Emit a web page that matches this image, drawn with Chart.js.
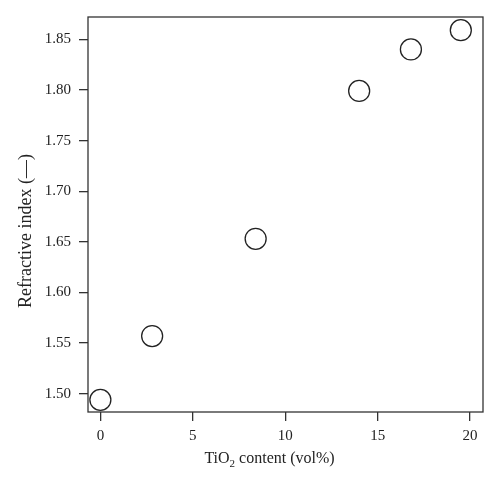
<!DOCTYPE html>
<html>
<head>
<meta charset="utf-8">
<script src="https://cdn.jsdelivr.net/npm/chart.js@4.4.0/dist/chart.umd.min.js"></script>
<style>
  html, body { margin: 0; padding: 0; background: #fff; }
  #wrap { width: 500px; height: 487px; }
</style>
</head>
<body>
<div id="wrap"><canvas id="myChart"></canvas></div>
<script>
// TiO2 content vs refractive index
const tio2Content = [0, 2.8, 8.4, 14.0, 16.8, 19.5];
const refractiveIndex = [1.494, 1.557, 1.653, 1.799, 1.840, 1.859];
const xTicks = [0, 5, 10, 15, 20];
const yTicks = [1.50, 1.55, 1.60, 1.65, 1.70, 1.75, 1.80, 1.85];

const ink = '#333';
const textColor = '#222';
const serif = '"Liberation Serif", "DejaVu Serif", serif';

// box around the plot area
const frame = {
    id: 'frame',
    afterDraw(chart) {
        const a = chart.chartArea;
        const c = chart.ctx;
        c.save();
        c.strokeStyle = ink;
        c.lineWidth = 1.3;
        c.strokeRect(a.left, a.top, a.right - a.left, a.bottom - a.top);
        c.restore();
    }
};

// axis titles (x title needs a real subscript)
const axisTitles = {
    id: 'axisTitles',
    afterDraw(chart) {
        const a = chart.chartArea;
        const c = chart.ctx;
        c.save();
        c.fillStyle = textColor;
        c.textBaseline = 'alphabetic';

        // x title
        const big = '16px ' + serif, small = '11px ' + serif;
        const parts = [['TiO', big, 0], ['2', small, 4], [' content (vol%)', big, 0]];
        let w = 0;
        parts.forEach(p => { c.font = p[1]; w += c.measureText(p[0]).width; });
        let x = a.left + (a.right - a.left) / 2 - 16 - w / 2;
        const y = 463;
        parts.forEach(p => {
            c.font = p[1];
            c.textAlign = 'left';
            c.fillText(p[0], x, y + p[2]);
            x += c.measureText(p[0]).width;
        });

        // y title
        c.translate(31, 231);
        c.rotate(-Math.PI / 2);
        c.font = '18px ' + serif;
        c.textAlign = 'center';
        c.fillText('Refractive index (\u2014)', 0, 0);
        c.restore();
    }
};

window.onload = function() {
    const ctx = document.getElementById('myChart').getContext('2d');
    new Chart(ctx, {
        type: 'scatter',
        data: {
            datasets: [{
                data: tio2Content.map((x, i) => ({ x: x, y: refractiveIndex[i] })),
                pointRadius: 10.5,
                pointHoverRadius: 10.5,
                pointBackgroundColor: '#fff',
                pointBorderColor: '#222',
                pointBorderWidth: 1.3
            }]
        },
        options: {
            responsive: true,
            maintainAspectRatio: false,
            animation: false,
            layout: { padding: { top: 16, right: 17, left: 0, bottom: 0 } },
            plugins: { legend: { display: false }, tooltip: { enabled: false } },
            scales: {
                x: {
                    type: 'linear',
                    min: -0.67,
                    max: 20.7,
                    afterFit(s) { s.height = 75; },
                    afterBuildTicks(s) { s.ticks = xTicks.map(v => ({ value: v })); },
                    border: { display: false },
                    grid: { drawOnChartArea: false, drawTicks: true, tickLength: 9, color: ink, lineWidth: 1.3 },
                    ticks: { color: textColor, padding: 6, font: { family: serif, size: 15 } }
                },
                y: {
                    type: 'linear',
                    min: 1.482,
                    max: 1.872,
                    afterFit(s) { s.width = 88; },
                    afterBuildTicks(s) { s.ticks = yTicks.map(v => ({ value: v })); },
                    border: { display: false },
                    grid: { drawOnChartArea: false, drawTicks: true, tickLength: 9, color: ink, lineWidth: 1.3 },
                    ticks: {
                        color: textColor,
                        padding: 8,
                        font: { family: serif, size: 15 },
                        callback: v => v.toFixed(2)
                    }
                }
            }
        },
        plugins: [frame, axisTitles]
    });
};
</script>
</body>
</html>
